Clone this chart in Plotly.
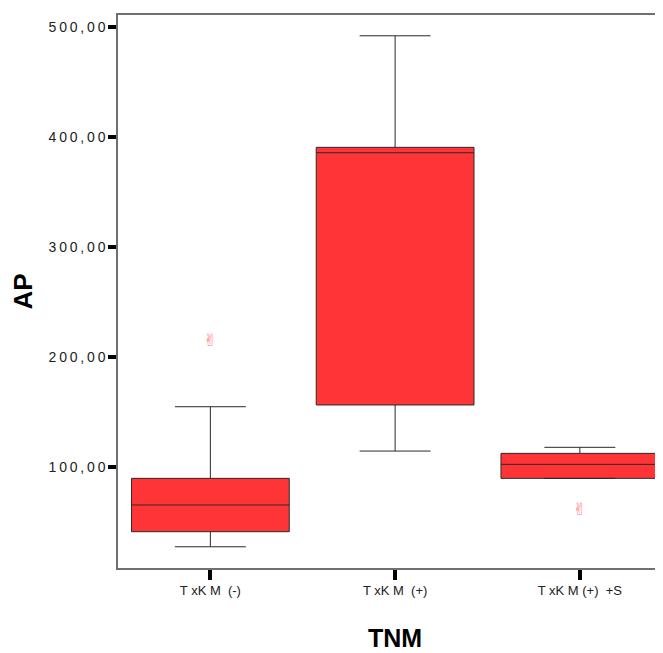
import plotly.graph_objects as go

# ---- data ----
categories = ["T xK M\u00a0 (-)", "T xK M\u00a0 (+)", "T xK M (+)\u00a0 +S"]
q1 = [41.2, 156.4, 89.7]
median = [65.5, 385.7, 102.4]
q3 = [89.7, 390.6, 112.4]
lower_fence = [27.5, 114.5, 89.7]
upper_fence = [154.8, 492.0, 117.9]

outlier_cats = ["T xK M\u00a0 (-)", "T xK M (+)\u00a0 +S"]
outlier_vals = [213.5, 60.3]

y_tick_vals = [100, 200, 300, 400, 500]
y_tick_text = ["100,00", "200,00", "300,00", "400,00", "500,00"]

x_title = "TNM"
y_title = "AP"

FONT = "Liberation Sans, Arial, sans-serif"

fig = go.Figure()
fig.add_trace(go.Box(
    x=categories,
    q1=q1, median=median, q3=q3,
    lowerfence=lower_fence, upperfence=upper_fence,
    fillcolor="#FF3437",
    line=dict(color="#2a2a2a", width=1),
    width=0.854,
    whiskerwidth=0.45,
    boxpoints=False,
    showlegend=False,
))
fig.add_trace(go.Scatter(
    x=outlier_cats, y=outlier_vals,
    mode="text", text=["\u270c"] * len(outlier_vals),
    textfont=dict(color="#FF7F86", size=17, family="DejaVu Sans"),
    textposition="middle center",
    showlegend=False, hoverinfo="y",
))

spaced = ["\u2009".join(list(t)) for t in y_tick_text]

fig.update_layout(
    width=655, height=645,
    margin=dict(l=110, r=0, t=7, b=85),
    paper_bgcolor="white", plot_bgcolor="white",
    font=dict(family=FONT, color="#222"),
    xaxis=dict(
        type="category", categoryorder="array", categoryarray=categories,
        range=[-0.5, 2.45],
        showline=True, linecolor="#707070", linewidth=1.5, mirror=True,
        ticks="outside", ticklen=10, tickwidth=4, tickcolor="black",
        tickfont=dict(size=13, family=FONT, color="#222"),
        showgrid=False, zeroline=False,
    ),
    yaxis=dict(
        range=[8.2, 510.9],
        tickvals=y_tick_vals, ticktext=spaced,
        showline=True, linecolor="#707070", linewidth=1.5,
        ticks="outside", ticklen=8, tickwidth=4, tickcolor="black",
        tickfont=dict(size=14, family=FONT, color="#222"),
        showgrid=False, zeroline=False,
    ),
    annotations=[
        dict(text="<b>" + x_title + "</b>", xref="x", x=1, yref="paper", y=0,
             yshift=-70, showarrow=False, xanchor="center", yanchor="middle",
             font=dict(size=25, family=FONT, color="black")),
        dict(text="<b>" + y_title + "</b>", xref="paper", x=0, xshift=-96,
             yref="paper", y=0.5, showarrow=False, textangle=-90,
             xanchor="center", yanchor="middle",
             font=dict(size=26, family=FONT, color="black")),
    ],
)

fig.write_html("out.html")
